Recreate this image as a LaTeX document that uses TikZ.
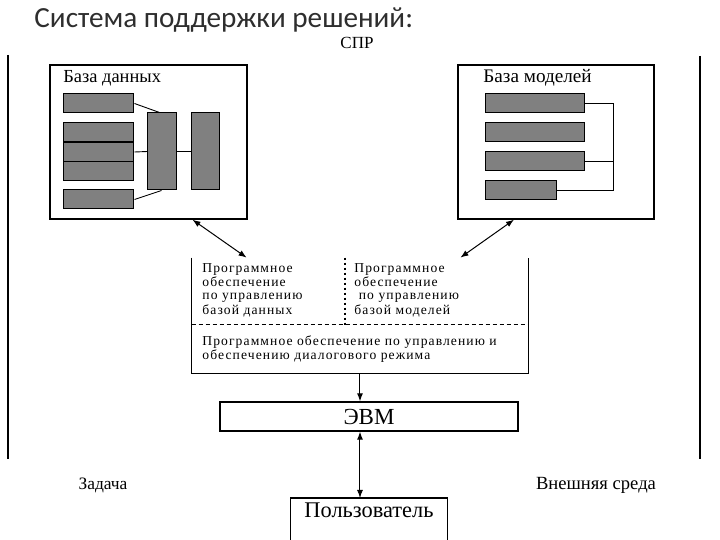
\documentclass[tikz,border=0pt]{standalone}
\usepackage{fontspec}
\setmainfont{Liberation Serif}
\newfontfamily\titlefont{Carlito}
\newfontfamily\spacedfont[LetterSpace=8]{Liberation Serif}
\usetikzlibrary{arrows.meta,calc}

\begin{document}
\begin{tikzpicture}[x=0.5pt,y=-0.5pt,
    >={Latex[length=4pt,width=3pt]},
    frame/.style={draw=black,line width=0.7pt,inner sep=0pt},
    bar/.style={draw=black,line width=0.5pt,fill=black!50,inner sep=0pt,
      minimum height=9.5pt},
    wire/.style={draw=black,line width=0.45pt},
    link/.style={draw=black,line width=0.5pt,<->},
    swtext/.style={font=\spacedfont\fontsize{6.8}{6.2}\selectfont,
      align=left,inner sep=0pt,anchor=north west},
    label/.style={font=\fontsize{9}{10}\selectfont,inner sep=0pt}
  ]
  \useasboundingbox (0,0) rectangle (720,540);
  % heading
  \node[anchor=north west,inner sep=0pt,text=black!82,
    font=\titlefont\fontsize{14.6}{16}\selectfont] (title) at (34,7)
    {Система поддержки решений:};
  \node[font=\fontsize{8.5}{9}\selectfont,inner sep=0pt] (spr) at (357,43) {СПР};
  % side borders
  \draw[line width=0.9pt] (8,55) -- (8,459);
  \draw[line width=0.9pt] (700,56) -- (700,459);

  % data base
  \node[frame,minimum width=98.5pt,minimum height=77pt] (db) at (148.5,142) {};
  \node[label,anchor=north west,font=\fontsize{9.2}{10}\selectfont] (dbname) at (63,70) {База данных};
  \node[bar,minimum width=35pt] (d1) at (99,103.5) {};
  \node[bar,minimum width=35pt] (d2) at (99,132.5) {};
  \node[bar,minimum width=35pt] (d3) at (99,152) {};
  \node[bar,minimum width=35pt] (d4) at (99,171.5) {};
  \node[bar,minimum width=35pt] (d5) at (99,199.5) {};
  \node[bar,minimum width=14.5pt,minimum height=38.5pt] (c1) at (162.5,151.5) {};
  \node[bar,minimum width=14pt,minimum height=38.5pt] (c2) at (206,151.5) {};
  \draw[wire] (d1.east) -- ([xshift=6pt]c1.north west);
  \draw[wire] (d3.east) -- (c1.west);
  \draw[wire] (c1.east) -- (c2.west);
  \draw[wire] (d5.east) -- ([xshift=7pt]c1.south west);

  % model base
  \node[frame,minimum width=98pt,minimum height=77pt] (mb) at (556,142) {};
  \node[label,anchor=north west,font=\fontsize{9.6}{10}\selectfont] (mbname) at (483,69) {База моделей};
  \node[bar,minimum width=49.5pt] (m1) at (535.5,103.5) {};
  \node[bar,minimum width=49.5pt] (m2) at (535.5,132.5) {};
  \node[bar,minimum width=49.5pt] (m3) at (535.5,161.5) {};
  \node[bar,minimum width=35.5pt] (m4) at (521.5,190.5) {};
  \coordinate (rail) at (613,0);
  \draw[wire] (m1.east) -- (m1.east -| rail) -- (m4.east -| rail) -- (m4.east);
  \draw[wire] (m3.east) -- (m3.east -| rail);

  % software block, open at the top
  \node[inner sep=0pt,minimum width=168pt,minimum height=57.5pt] (sw) at (360,315.5) {};
  \draw[line width=0.7pt] (sw.north west) |- (sw.south east) -- (sw.north east);
  \coordinate (split) at (345,325);
  \draw[line width=0.5pt,dash pattern=on 2pt off 1.5pt] (sw.west |- split) -- (sw.east |- split);
  \draw[line width=1.1pt,dash pattern=on 1.2pt off 1.3pt] (sw.north -| split) -- (split);
  \node[swtext] (swdb) at (202,263)
    {Программное\\обеспечение\\по управлению\\базой данных};
  \node[swtext] (swmb) at (354,263)
    {Программное\\обеспечение\\\ по управлению\\базой моделей};
  \node[swtext] (swdlg) at (202,335)
    {Программное обеспечение по управлению и\\обеспечению диалогового режима};

  \draw[link] ([xshift=22pt]db.south) -- ([xshift=27.5pt]sw.north west);
  \draw[link] ([xshift=-21pt]mb.south) -- ([xshift=-34pt]sw.north east);

  % computer and user
  \node[frame,minimum width=149pt,minimum height=14.5pt,
    font=\fontsize{11.5}{12}\selectfont] (evm) at (369,416.5) {ЭВМ};
  \draw[line width=0.5pt,->] (sw.south) -- (sw.south |- evm.north);
  \node[inner sep=0pt,inner xsep=0pt,minimum width=78pt,text height=7.5pt,
    text depth=9.5pt,inner ysep=2pt,anchor=north,
    font=\fontsize{11.2}{12}\selectfont] (user) at (369,498) {Пользователь};
  \draw[line width=0.7pt] (user.south west) |- (user.north east) -- (user.south east);
  \draw[link] (sw.south |- evm.south) -- (sw.south |- user.north);

  \node[label,font=\fontsize{8.7}{10}\selectfont] (task) at (103,485) {Задача};
  \node[label,font=\fontsize{9.3}{10}\selectfont] (env) at (596,485) {Внешняя среда};
\end{tikzpicture}
\end{document}
